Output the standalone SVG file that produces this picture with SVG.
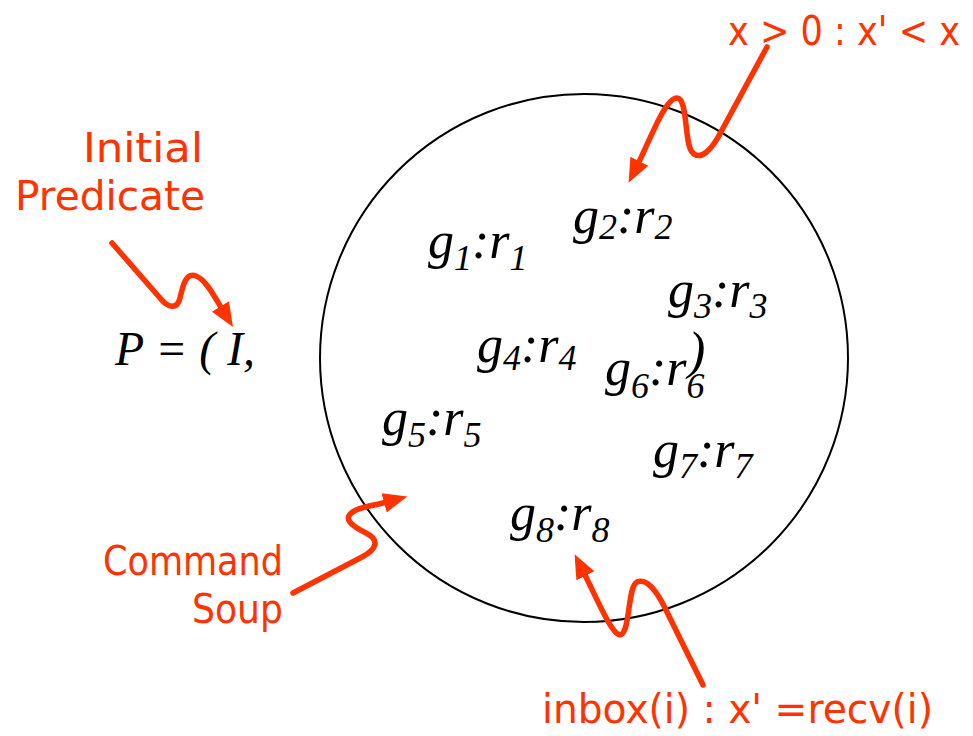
<svg xmlns="http://www.w3.org/2000/svg" width="973" height="736" viewBox="0 0 973 736">
<style>
.note{font-family:"DejaVu Sans","Liberation Sans",sans-serif;font-size:40px;fill:#FF3300}
.math{font-family:"Liberation Serif","Times New Roman",serif;font-style:italic;font-size:52px;fill:#000}
.sub{font-size:36px}
.arrow{fill:none;stroke:#FF3300;stroke-width:5.5;stroke-linecap:round;stroke-linejoin:round}
</style>
<defs>
<marker id="ah" markerUnits="userSpaceOnUse" markerWidth="26" markerHeight="22" viewBox="0 0 26 22" refX="3" refY="11" orient="auto">
<path d="M0,1 L24,11 L0,21 z" fill="#FF3300"/>
</marker>
</defs>
<rect width="973" height="736" fill="#fff"/>
<g id="soup">
<circle cx="584" cy="358" r="264" fill="none" stroke="#000" stroke-width="2"/>
</g>
<g id="predicate">
<text class="math" x="115" y="365" font-size="48" textLength="140" lengthAdjust="spacingAndGlyphs" style="font-size:48px">P = ( I,</text>
</g>
<g id="cmd1"><text class="math" x="428" y="258">g<tspan class="sub" dy="12">1</tspan><tspan dy="-12">:r</tspan><tspan class="sub" dy="12">1</tspan></text></g>
<g id="cmd2"><text class="math" x="573" y="233">g<tspan class="sub" dy="6">2</tspan><tspan dy="-6">:r</tspan><tspan class="sub" dy="6">2</tspan></text></g>
<g id="cmd3"><text class="math" x="668" y="307">g<tspan class="sub" dy="11">3</tspan><tspan dy="-11">:r</tspan><tspan class="sub" dy="11">3</tspan></text></g>
<g id="cmd4"><text class="math" x="477" y="362">g<tspan class="sub" dy="8">4</tspan><tspan dy="-8">:r</tspan><tspan class="sub" dy="8">4</tspan></text></g>
<g id="paren"><text class="math" x="688" y="368">)</text></g>
<g id="cmd6"><text class="math" x="605" y="385">g<tspan class="sub" dy="13">6</tspan><tspan dy="-13">:r</tspan><tspan class="sub" dy="13">6</tspan></text></g>
<g id="cmd5"><text class="math" x="382" y="435">g<tspan class="sub" dy="12">5</tspan><tspan dy="-12">:r</tspan><tspan class="sub" dy="12">5</tspan></text></g>
<g id="cmd7"><text class="math" x="653" y="467">g<tspan class="sub" dy="11">7</tspan><tspan dy="-11">:r</tspan><tspan class="sub" dy="11">7</tspan></text></g>
<g id="cmd8"><text class="math" x="510" y="530">g<tspan class="sub" dy="12">8</tspan><tspan dy="-12">:r</tspan><tspan class="sub" dy="12">8</tspan></text></g>
<g id="label-initial">
<text class="note" x="83" y="162" textLength="120" lengthAdjust="spacingAndGlyphs">Initial</text>
<text class="note" x="15" y="210" textLength="190" lengthAdjust="spacingAndGlyphs">Predicate</text>
</g>
<g id="label-guard">
<text class="note" x="728" y="45" textLength="232" lengthAdjust="spacingAndGlyphs">x &gt; 0 : x' &lt; x</text>
</g>
<g id="label-command">
<text class="note" x="103" y="575" textLength="180" lengthAdjust="spacingAndGlyphs">Command</text>
<text class="note" x="192" y="623" textLength="91" lengthAdjust="spacingAndGlyphs">Soup</text>
</g>
<g id="label-inbox">
<text class="note" x="542" y="723" textLength="391" lengthAdjust="spacingAndGlyphs">inbox(i) : x' =recv(i)</text>
</g>
<g id="connectors">
<path class="arrow" marker-end="url(#ah)" d="M767,47 L722,130 C712,150 700,162 692,152 C684,142 688,98 677,98 C665,98 650,140 638,164"/>
<path class="arrow" marker-end="url(#ah)" d="M112,243 L160,298 C168,308 177,310 180,298 C183,285 186,272 196,276 C206,280 214,296 222,309"/>
<path class="arrow" marker-end="url(#ah)" d="M293,593 L362,557 C377,549 380,540 366,533 C352,526 340,518 356,510 C366,506 376,505 387,502"/>
<path class="arrow" marker-end="url(#ah)" d="M703,685 L664,606 C656,590 646,578 637,582 C628,586 630,628 622,634 C614,640 600,605 584,573"/>
</g>
</svg>
